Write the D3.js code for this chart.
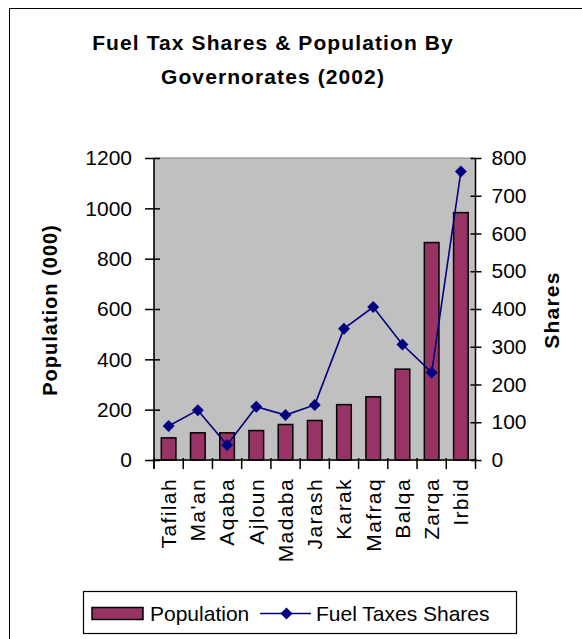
<!DOCTYPE html>
<html>
<head>
<meta charset="utf-8">
<script src="https://cdn.jsdelivr.net/npm/d3@7"></script>
<style>
  html, body { margin: 0; padding: 0; background: #fff; }
  svg { display: block; font-family: "Liberation Sans", Arial, sans-serif; }
</style>
</head>
<body>
<svg id="chart" width="582" height="639"></svg>
<script>
// ---- data ----
const categories = ["Tafilah", "Ma'an", "Aqaba", "Ajloun", "Madaba", "Jarash", "Karak", "Mafraq", "Balqa", "Zarqa", "Irbid"];
const population = [88, 108, 108, 117, 141, 157, 220, 251, 361, 864, 983];
const fuelShares = [90, 132, 40, 141, 119, 146, 348, 405, 306, 232, 764];
const leftTicks = [0, 200, 400, 600, 800, 1000, 1200];
const rightTicks = [0, 100, 200, 300, 400, 500, 600, 700, 800];
const titleLines = ["Fuel Tax Shares & Population By", "Governorates (2002)"];
const seriesNames = ["Population", "Fuel Taxes Shares"];

// ---- layout ----
const svg = d3.select("#chart");
const plot = { left: 154, right: 475.5, top: 158, bottom: 460 };
const barColor = "#993366";
const lineColor = "#000080";

// outer chart border
svg.append("rect").attr("x", 9.5).attr("y", 8.5).attr("width", 620).attr("height", 700)
  .attr("fill", "#fff").attr("stroke", "#000").attr("stroke-width", 1);

// title
svg.append("g").selectAll("text").data(titleLines).join("text")
  .attr("x", 273).attr("y", (d, i) => 50 + i * 33.5)
  .attr("text-anchor", "middle").attr("font-size", 21).attr("font-weight", "bold")
  .attr("letter-spacing", 1.1).attr("fill", "#000").text(d => d);

// scales
const xCat = d3.scaleBand().domain(categories).range([plot.left, plot.right]).padding(0);
const xBar = d3.scaleBand().domain(categories).range([plot.left, plot.right]).paddingInner(0.5).paddingOuter(0.25);
const yL = d3.scaleLinear().domain([0, 1200]).range([plot.bottom, plot.top]);
const yR = d3.scaleLinear().domain([0, 800]).range([plot.bottom, plot.top]);

// plot area
svg.append("rect").attr("x", plot.left).attr("y", plot.top)
  .attr("width", plot.right - plot.left).attr("height", plot.bottom - plot.top)
  .attr("fill", "#c0c0c0").attr("stroke", "#808080").attr("stroke-width", 1);

// bars
svg.append("g").selectAll("rect").data(categories).join("rect")
  .attr("x", d => xBar(d)).attr("width", xBar.bandwidth())
  .attr("y", (d, i) => yL(population[i])).attr("height", (d, i) => yL(0) - yL(population[i]))
  .attr("fill", barColor).attr("stroke", "#000").attr("stroke-width", 1.5);

// line
const line = d3.line().x((d, i) => xCat(categories[i]) + xCat.bandwidth() / 2).y(d => yR(d));
svg.append("path").datum(fuelShares).attr("d", line)
  .attr("fill", "none").attr("stroke", lineColor).attr("stroke-width", 1.6);
const diamond = d3.symbol().type(d3.symbolSquare).size(72);
svg.append("g").selectAll("path").data(fuelShares).join("path")
  .attr("d", diamond)
  .attr("transform", (d, i) => `translate(${xCat(categories[i]) + xCat.bandwidth() / 2},${yR(d)}) rotate(45)`)
  .attr("fill", lineColor);

// left axis
const gL = svg.append("g").attr("transform", `translate(${plot.left},0)`)
  .call(d3.axisLeft(yL).tickValues(leftTicks).tickFormat(d3.format("d")).tickSize(9).tickPadding(13).tickSizeOuter(0));
gL.selectAll(".tick line").attr("x1", 6).attr("stroke", "#000").attr("stroke-width", 1.5);
gL.select(".domain").attr("d", `M0,${plot.top}V${plot.bottom + 9}`).attr("stroke", "#000").attr("stroke-width", 1.5);
gL.selectAll(".tick text").attr("font-size", 21).attr("font-family", "Liberation Sans, Arial, sans-serif").attr("fill", "#000");

// right axis
const gR = svg.append("g").attr("transform", `translate(${plot.right},0)`)
  .call(d3.axisRight(yR).tickValues(rightTicks).tickFormat(d3.format("d")).tickSize(6).tickPadding(10).tickSizeOuter(0));
gR.selectAll(".tick line").attr("x1", -5).attr("stroke", "#000").attr("stroke-width", 1.5);
gR.select(".domain").attr("d", `M0,${plot.top}V${plot.bottom}`).attr("stroke", "#000").attr("stroke-width", 1.5);
gR.selectAll(".tick text").attr("font-size", 21).attr("font-family", "Liberation Sans, Arial, sans-serif").attr("fill", "#000");

// bottom axis: boundary ticks + rotated labels
const gB = svg.append("g");
gB.append("line").attr("x1", plot.left).attr("x2", plot.right).attr("y1", plot.bottom).attr("y2", plot.bottom)
  .attr("stroke", "#000").attr("stroke-width", 1.5);
const bounds = categories.map(c => xCat(c)).concat([xCat.range()[1]]);
gB.selectAll("line.b").data(bounds).join("line").attr("class", "b")
  .attr("x1", d => d).attr("x2", d => d).attr("y1", plot.bottom - 2).attr("y2", plot.bottom + 9)
  .attr("stroke", "#000").attr("stroke-width", 1.5);
gB.selectAll("text").data(categories).join("text")
  .attr("transform", d => `translate(${xCat(d) + xCat.bandwidth() / 2},478) rotate(-90)`)
  .attr("text-anchor", "end").attr("dy", "0.35em")
  .attr("font-size", 21).attr("letter-spacing", 1.4).attr("fill", "#000").text(d => d);

// axis titles
svg.append("text").attr("transform", "translate(50,310) rotate(-90)")
  .attr("text-anchor", "middle").attr("dy", "0.35em").attr("font-size", 20).attr("font-weight", "bold")
  .attr("letter-spacing", 1).text("Population (000)");
svg.append("text").attr("transform", "translate(551.5,310) rotate(-90)")
  .attr("text-anchor", "middle").attr("dy", "0.35em").attr("font-size", 21).attr("font-weight", "bold")
  .attr("letter-spacing", 1.2).text("Shares");

// legend
const lg = svg.append("g");
lg.append("rect").attr("x", 83.5).attr("y", 591.5).attr("width", 433).attr("height", 42)
  .attr("fill", "#fff").attr("stroke", "#000").attr("stroke-width", 1.2);
lg.append("rect").attr("x", 92).attr("y", 607.5).attr("width", 51).attr("height", 12)
  .attr("fill", barColor).attr("stroke", "#000").attr("stroke-width", 1.5);
lg.append("text").attr("x", 150).attr("y", 620.5).attr("font-size", 21).text(seriesNames[0]);
lg.append("line").attr("x1", 260).attr("x2", 311).attr("y1", 613.5).attr("y2", 613.5)
  .attr("stroke", lineColor).attr("stroke-width", 1.6);
lg.append("path").attr("d", diamond).attr("transform", "translate(286.5,613.5) rotate(45)").attr("fill", lineColor);
lg.append("text").attr("x", 316).attr("y", 620.5).attr("font-size", 21).text(seriesNames[1]);
</script>
</body>
</html>
